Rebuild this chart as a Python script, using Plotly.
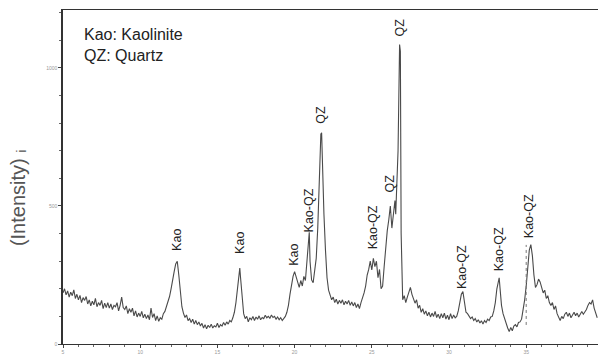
import plotly.graph_objects as go

two_theta = [
5.0,5.1,5.2,5.3,5.4,5.5,5.6,5.7,5.8,5.9,6.0,6.1,6.2,6.3,6.4,6.5,6.6,6.7,6.8,6.9,
7.0,7.1,7.2,7.3,7.4,7.5,7.6,7.7,7.8,7.9,8.0,8.1,8.2,8.3,8.4,8.5,8.6,8.7,8.8,8.9,
9.0,9.1,9.2,9.3,9.4,9.5,9.6,9.7,9.8,9.9,10.0,10.1,10.2,10.3,10.4,10.5,10.6,10.7,10.8,10.9,
11.0,11.1,11.2,11.3,11.4,11.5,11.6,11.7,11.8,11.9,12.0,12.1,12.2,12.3,12.4,12.5,12.6,12.7,12.8,12.9,
13.0,13.1,13.2,13.3,13.4,13.5,13.6,13.7,13.8,13.9,14.0,14.1,14.2,14.3,14.4,14.5,14.6,14.7,14.8,14.9,
15.0,15.1,15.2,15.3,15.4,15.5,15.6,15.7,15.8,15.9,16.0,16.1,16.2,16.3,16.4,16.45,16.5,16.6,16.7,16.8,16.9,
17.0,17.1,17.2,17.3,17.4,17.5,17.6,17.7,17.8,17.9,18.0,18.1,18.2,18.3,18.4,18.5,18.6,18.7,18.8,18.9,
19.0,19.1,19.2,19.3,19.4,19.5,19.6,19.7,19.8,19.9,20.0,20.1,20.2,20.3,20.4,20.5,20.6,20.7,20.8,20.9,20.95,
21.0,21.1,21.2,21.3,21.4,21.5,21.6,21.7,21.75,21.8,21.9,22.0,22.1,22.2,22.3,22.4,22.5,22.6,22.7,22.8,22.9,
23.0,23.1,23.2,23.3,23.4,23.5,23.6,23.7,23.8,23.9,24.0,24.1,24.2,24.3,24.4,24.5,24.6,24.7,24.8,24.9,
25.0,25.1,25.2,25.3,25.4,25.5,25.6,25.7,25.8,25.9,26.0,26.1,26.2,26.3,26.4,26.5,26.55,26.6,26.7,26.8,26.85,26.9,
27.0,27.1,27.2,27.3,27.4,27.5,27.6,27.7,27.8,27.9,28.0,28.1,28.2,28.3,28.4,28.5,28.6,28.7,28.8,28.9,
29.0,29.1,29.2,29.3,29.4,29.5,29.6,29.7,29.8,29.9,30.0,30.1,30.2,30.3,30.4,30.5,30.6,30.7,30.8,30.9,
31.0,31.1,31.2,31.3,31.4,31.5,31.6,31.7,31.8,31.9,32.0,32.1,32.2,32.3,32.4,32.5,32.6,32.7,32.8,32.9,
33.0,33.1,33.2,33.25,33.3,33.4,33.5,33.6,33.7,33.8,33.9,34.0,34.1,34.2,34.3,34.4,34.5,34.6,34.7,34.8,34.9,
35.0,35.1,35.2,35.3,35.4,35.5,35.6,35.7,35.8,35.9,36.0,36.1,36.2,36.3,36.4,36.5,36.6,36.7,36.8,36.9,
37.0,37.1,37.2,37.3,37.4,37.5,37.6,37.7,37.8,37.9,38.0,38.1,38.2,38.3,38.4,38.5,38.6,38.7,38.8,38.9,
39.0,39.1,39.2,39.3,39.4,39.5,39.6]

intensity = [
185,200,178,192,170,188,175,196,165,180,160,176,150,168,158,172,145,160,138,155,
142,165,135,150,140,158,128,148,132,150,130,145,125,140,135,150,120,140,170,132,
125,138,110,128,115,130,102,120,98,112,100,118,95,108,92,105,88,130,96,110,
85,102,82,95,90,110,118,135,150,172,200,225,262,290,300,250,185,135,112,96,
105,85,92,78,90,72,85,70,80,65,75,58,70,55,68,60,72,58,66,62,
75,60,70,65,78,68,80,72,85,80,95,115,150,210,262,275,240,160,110,92,100,
80,95,88,100,85,98,90,102,88,96,92,104,95,100,93,105,96,100,90,98,
88,95,85,92,100,115,140,180,215,245,262,240,225,205,230,210,245,230,300,400,405,
300,232,222,260,310,420,600,760,765,640,470,340,240,195,180,160,170,150,162,145,158,
148,160,142,155,145,158,140,152,138,150,132,145,128,150,165,185,210,250,270,300,
268,310,280,300,240,270,200,210,280,360,410,450,500,420,480,520,470,530,700,1085,1060,400,
160,175,150,170,185,205,180,165,148,160,130,140,115,128,108,120,102,115,98,112,
100,118,96,108,92,110,95,112,90,104,88,110,92,105,95,100,120,150,180,190,
150,115,110,100,92,98,85,92,80,88,76,84,72,85,78,90,85,98,100,120,
150,200,235,240,205,140,110,90,72,58,45,60,48,65,70,62,78,80,90,120,160,
210,290,340,360,320,250,205,215,235,225,200,185,195,165,175,150,140,150,125,138,
110,95,85,100,92,108,115,100,112,95,108,115,102,112,98,110,118,108,115,125,
140,150,145,160,130,110,95]

# dotted marker line (scan artefact) near 35 deg
marker_x = [35.0, 35.0]
marker_y = [69, 359]

peak_labels = ["Kao", "Kao", "Kao", "Kao-QZ", "QZ", "Kao-QZ", "QZ", "QZ", "Kao-QZ", "Kao-QZ", "Kao-QZ"]
label_x = [12.38, 16.46, 20.0, 20.9, 21.7, 25.1, 26.2, 26.85, 30.85, 33.25, 35.2]
label_y = [377, 366, 322, 482, 830, 424, 583, 1148, 279, 344, 464]

x_ticks = [5, 10, 15, 20, 25, 30, 35]
y_ticks = [0, 500, 1000]

FONT = "Liberation Sans"

fig = go.Figure()
fig.add_trace(go.Scatter(x=two_theta, y=intensity, mode="lines",
                         line=dict(color="#4a4a4a", width=1.1), showlegend=False))
fig.add_trace(go.Scatter(x=marker_x, y=marker_y, mode="lines",
                         line=dict(color="#777777", width=1, dash="dot"), showlegend=False))

for t, xv, yv in zip(peak_labels, label_x, label_y):
    fig.add_annotation(x=xv, y=yv, text=t, textangle=-90, showarrow=False,
                       xanchor="center", yanchor="middle",
                       font=dict(family=FONT, size=12.5, color="#222222"))

fig.add_annotation(xref="paper", yref="paper", x=0.035, y=0.958, xanchor="left", yanchor="top",
                   text="Kao: Kaolinite<br>QZ: Quartz", align="left", showarrow=False,
                   font=dict(family=FONT, size=16, color="#222222"))

fig.add_annotation(xref="paper", yref="paper", x=-0.084, y=0.437, xanchor="center", yanchor="middle",
                   text="(Intensity) ᵢ", textangle=-90, showarrow=False,
                   font=dict(family=FONT, size=20, color="#555555"))

fig.update_layout(
    width=601, height=358,
    margin=dict(l=63, r=3, t=10, b=14),
    paper_bgcolor="white", plot_bgcolor="white",
    font=dict(family=FONT),
    xaxis=dict(range=[5, 39.65], tickvals=x_ticks, ticktext=[str(v) for v in x_ticks],
               showgrid=False, zeroline=False, showline=True, linecolor="#333333", linewidth=1,
               mirror=True, ticks="outside", ticklen=3, tickcolor="#444444",
               tickfont=dict(size=5, color="#999999"),
               minor=dict(dtick=1, ticks="outside", ticklen=2, tickcolor="#666666")),
    yaxis=dict(range=[0, 1210], tickvals=y_ticks, ticktext=[str(v) for v in y_ticks],
               showgrid=False, zeroline=False, showline=True, linecolor="#333333", linewidth=1.5,
               ticks="outside", ticklen=3, tickcolor="#444444",
               tickfont=dict(size=5, color="#999999"),
               minor=dict(dtick=100, ticks="outside", ticklen=2, tickcolor="#666666")),
)

fig.write_html("out.html")
